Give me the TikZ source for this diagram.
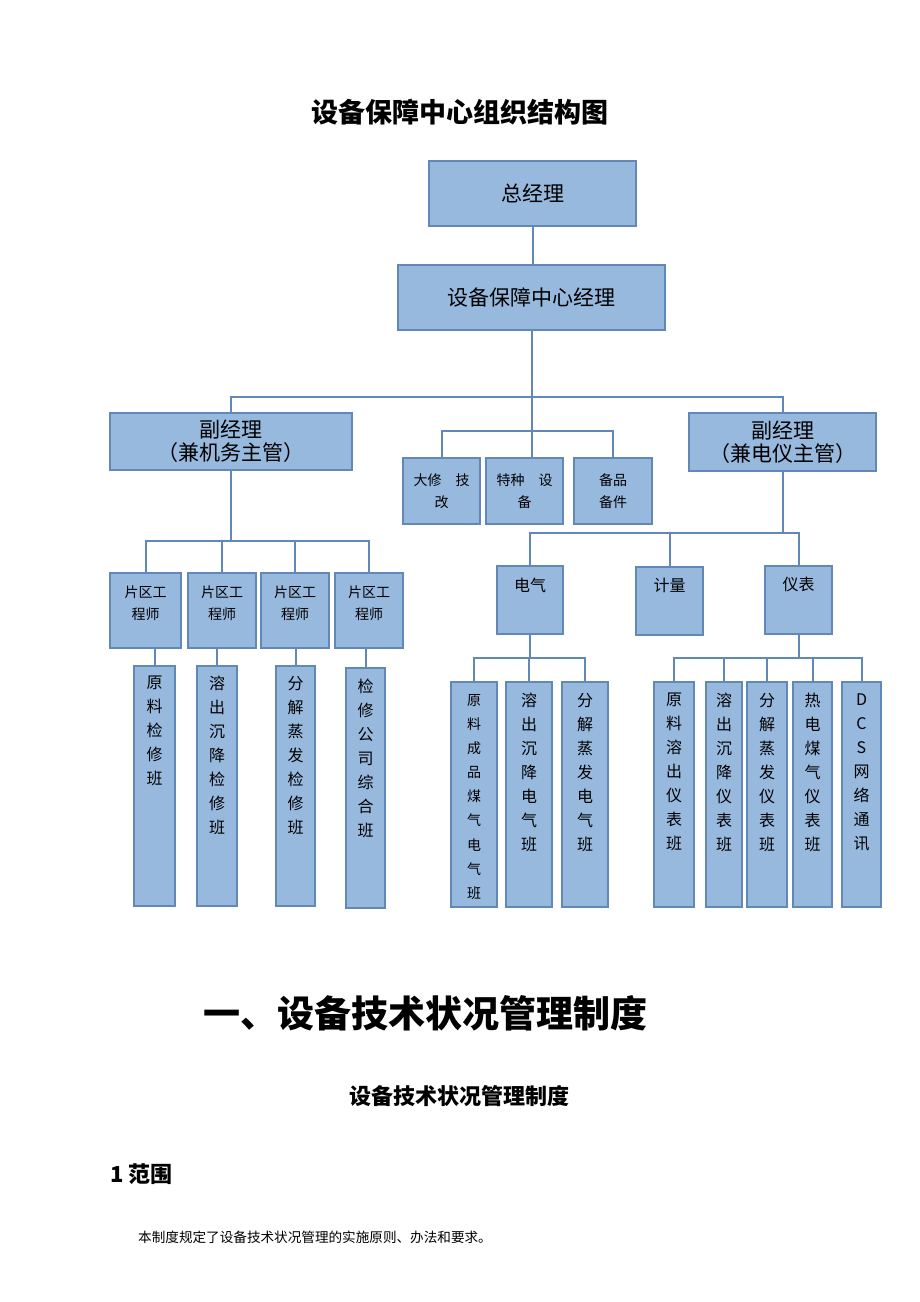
\documentclass[tikz,border=0pt]{standalone}
\usepackage{fontspec}
\setmainfont{Noto Sans CJK SC}
\definecolor{boxfill}{RGB}{152,185,222}
\definecolor{boxline}{RGB}{98,136,184}

\begin{document}
\begin{tikzpicture}[x=1pt,y=-1pt,
  box/.style={draw=boxline,line width=1.6pt,fill=boxfill,inner sep=0pt,align=center},
  link/.style={draw=boxline,line width=2pt},
  toplab/.style={anchor=north,align=center,inner sep=0pt,yshift=-12pt},
  big/.style={font=\fontsize{21}{23}\selectfont},
  small/.style={font=\fontsize{14}{22}\selectfont},
  col/.style={font=\fontsize{16}{24}\selectfont}]
  \useasboundingbox[fill=white] (0,0) rectangle (920,1302);

  \node[font=\bfseries\fontsize{27}{27}\selectfont] (title) at (460,112) {设备保障中心组织结构图};

  % connectors first, boxes are drawn over them
  \coordinate (busA) at (531.5,397);
  \coordinate (busB) at (531.5,431);
  \coordinate (busC) at (231,541);
  \coordinate (busD) at (782.5,533);
  \coordinate (busE) at (530,658);
  \coordinate (busF) at (798.5,658);

  % top of the tree
  \node[box,big,minimum width=207,minimum height=65] (zjl) at (532.5,193.5) {总经理};
  \node[box,big,minimum width=267,minimum height=65] (zxjl) at (531.5,297.5) {设备保障中心经理};
  \node[box,big,minimum width=242,minimum height=57] (fjl1) at (231,441.5) {副经理\\（兼机务主管）};
  \node[box,big,minimum width=187,minimum height=58] (fjl2) at (782.5,442) {副经理\\（兼电仪主管）};
  \node[box,small,minimum width=77,minimum height=66] (dx) at (441.5,491) {大修　技\\改};
  \node[box,small,minimum width=77,minimum height=66] (tz) at (524.5,491) {特种　设\\备};
  \node[box,small,minimum width=78,minimum height=66] (bp) at (613,491) {备品\\备件};

  \draw[link] (zjl.south) -- (zjl.south |- zxjl.north);
  \draw[link] (zxjl.south) -- (zxjl.south |- tz.north);
  \draw[link] (fjl1) |- (busA) -| (fjl2);
  \draw[link] (dx) |- (busB) -| (bp);

  % mechanical side
  \node[box,minimum width=71,minimum height=75,label={[toplab,small,yshift=-1pt]north:片区工\\程师}] (g1) at (145.5,610.5) {};
  \node[box,minimum width=68,minimum height=75,label={[toplab,small,yshift=-1pt]north:片区工\\程师}] (g2) at (222,610.5) {};
  \node[box,minimum width=68,minimum height=75,label={[toplab,small,yshift=-1pt]north:片区工\\程师}] (g3) at (295,610.5) {};
  \node[box,minimum width=68,minimum height=75,label={[toplab,small,yshift=-1pt]north:片区工\\程师}] (g4) at (369,610.5) {};
  \node[box,minimum width=41,minimum height=240,label={[toplab,col,yshift=1pt]north:原\\料\\检\\修\\班}] (t1) at (154.5,786) {};
  \node[box,minimum width=40,minimum height=240,label={[toplab,col,yshift=1pt]north:溶\\出\\沉\\降\\检\\修\\班}] (t2) at (217,786) {};
  \node[box,minimum width=39,minimum height=240,label={[toplab,col,yshift=1pt]north:分\\解\\蒸\\发\\检\\修\\班}] (t3) at (295.5,786) {};
  \node[box,minimum width=39,minimum height=240,label={[toplab,col]north:检\\修\\公\\司\\综\\合\\班}] (t4) at (365.5,788) {};

  \draw[link] (fjl1) -- (busC);
  \draw[link] (g1) |- (busC) -| (g4);
  \draw[link] (busC -| g2) -- (g2);
  \draw[link] (busC -| g3) -- (g3);
  \draw[link] (g1.south -| t1) -- (t1);
  \draw[link] (g2.south -| t2) -- (t2);
  \draw[link] (g3.south -| t3) -- (t3);
  \draw[link] (g4.south -| t4) -- (t4);

  % electrical and instrument side
  \node[box,minimum width=66,minimum height=68,label={[toplab,col,yshift=-1pt]north:电气}] (dq) at (530,600) {};
  \node[box,minimum width=67,minimum height=68,label={[toplab,col]north:计量}] (jl) at (669.5,601) {};
  \node[box,minimum width=67,minimum height=68,label={[toplab,col]north:仪表}] (yb) at (798.5,600) {};
  \node[box,minimum width=46,minimum height=225,label={[toplab,font=\fontsize{14}{24.1}\selectfont,yshift=-1pt]north:原\\料\\成\\品\\煤\\气\\电\\气\\班}] (e1) at (474,794.5) {};
  \node[box,minimum width=46,minimum height=225,label={[toplab,col]north:溶\\出\\沉\\降\\电\\气\\班}] (e2) at (529,794.5) {};
  \node[box,minimum width=46,minimum height=225,label={[toplab,col]north:分\\解\\蒸\\发\\电\\气\\班}] (e3) at (585,794.5) {};
  \node[box,minimum width=40,minimum height=225,label={[toplab,col]north:原\\料\\溶\\出\\仪\\表\\班}] (i1) at (674,794.5) {};
  \node[box,minimum width=36,minimum height=225,label={[toplab,col]north:溶\\出\\沉\\降\\仪\\表\\班}] (i2) at (724,794.5) {};
  \node[box,minimum width=40,minimum height=225,label={[toplab,col]north:分\\解\\蒸\\发\\仪\\表\\班}] (i3) at (767,794.5) {};
  \node[box,minimum width=39,minimum height=225,label={[toplab,col]north:热\\电\\煤\\气\\仪\\表\\班}] (i4) at (812.5,794.5) {};
  \node[box,minimum width=39,minimum height=225,label={[toplab,col]north:D\\C\\S\\网\\络\\通\\讯}] (i5) at (861.5,794.5) {};

  \draw[link] (fjl2) -- (busD);
  \draw[link] (dq) |- (busD) -| (yb);
  \draw[link] (busD -| jl) -- (jl);
  \draw[link] (dq) -- (busE);
  \draw[link] (e1) |- (busE) -| (e3);
  \draw[link] (busE -| e2) -- (e2);
  \draw[link] (yb) -- (busF);
  \draw[link] (i1) |- (busF) -| (i5);
  \draw[link] (busF -| i2) -- (i2);
  \draw[link] (busF -| i3) -- (i3);
  \draw[link] (busF -| i4) -- (i4);

  % text of the page below the chart
  \node[font=\bfseries\fontsize{37}{37}\selectfont] (sec) at (425.5,1013) {一、设备技术状况管理制度};
  \node[font=\bfseries\fontsize{22}{22}\selectfont] (subsec) at (459.5,1096) {设备技术状况管理制度};
  \node[font=\bfseries\fontsize{22}{22}\selectfont,anchor=west,inner sep=0pt] (fanwei) at (110,1174) {1 范围};
  \node[font=\fontsize{13.6}{14}\selectfont,anchor=west,inner sep=0pt] (body) at (138,1237) {本制度规定了设备技术状况管理的实施原则、办法和要求。};
\end{tikzpicture}
\end{document}
